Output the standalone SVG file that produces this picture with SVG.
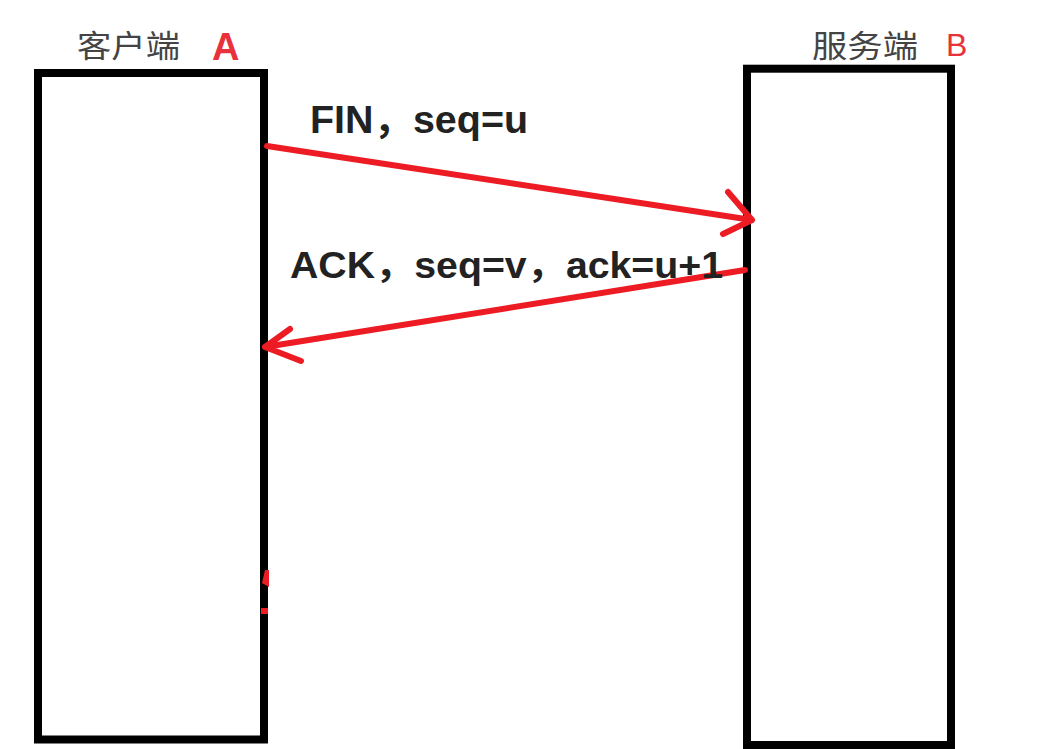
<svg xmlns="http://www.w3.org/2000/svg" width="1057" height="749" viewBox="0 0 1057 749">
<style>
.box{fill:#ffffff;stroke:#000000;stroke-width:8}
.cn{font-family:"Noto Sans CJK SC","Noto Sans",sans-serif;font-size:31px;fill:#444444}
.lbl{font-family:"Liberation Sans","Noto Sans CJK SC",sans-serif;font-weight:bold;fill:#222222}
.red{stroke:#ed1c24;stroke-width:6;fill:none;stroke-linecap:round;stroke-linejoin:round}
</style>
<rect width="1057" height="749" fill="#ffffff"/>
<g id="client">
<rect class="box" x="38" y="73" width="226" height="666.5"/>
<text class="cn" x="77" y="57" textLength="103" lengthAdjust="spacingAndGlyphs">客户端</text>
<text x="212" y="60" font-family="Liberation Sans,sans-serif" font-weight="bold" font-size="38" fill="#e8313a">A</text>
</g>
<g id="server">
<rect class="box" x="747" y="68.7" width="204" height="676.3"/>
<text class="cn" x="812" y="57" textLength="106" lengthAdjust="spacingAndGlyphs">服务端</text>
<text x="946" y="56" font-family="Liberation Sans,sans-serif" font-size="32" fill="#e8313a">B</text>
</g>
<g id="connectors">
<path class="red" d="M267 146 L752 220 M728 192 L752 220 L723 234"/>
<path class="red" d="M745 270 L265 347 M290 329 L265 347 L301 361"/>
<path d="M262 583 L265 570 L269 570 L269 587 Z" fill="#ed1c24"/>
<rect x="261" y="608" width="7" height="6" fill="#ed1c24"/>
</g>
<g id="labels">
<text class="lbl" x="310" y="133" font-size="38" textLength="218" lengthAdjust="spacingAndGlyphs">FIN，seq=u</text>
<text class="lbl" x="290" y="278" font-size="37" textLength="433" lengthAdjust="spacingAndGlyphs">ACK，seq=v，ack=u+1</text>
</g>
</svg>
